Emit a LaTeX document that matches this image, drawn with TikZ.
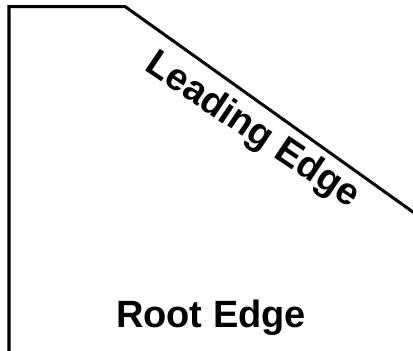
\documentclass[tikz,border=0pt]{standalone}
\usepackage{fontspec}
\setmainfont{Liberation Sans}
\tikzset{
  outline/.style={line width=3bp, line join=miter, black},
  lbl/.style={font=\bfseries\fontsize{38bp}{42bp}\selectfont, inner sep=0pt, anchor=center}
}
\begin{document}
\begin{tikzpicture}[x=1bp,y=-1bp]
\useasboundingbox (0,0) rectangle (413,351);
\clip (0,0) rectangle (413,351);
\coordinate (bl) at (9,360);
\coordinate (tl) at (9,6.5);
\coordinate (tc) at (125,6.5);
\coordinate (re) at (420,217);
\draw[outline] (bl) -- (tl) -- (tc) -- (re);
\node[lbl, rotate=-34] (lead) at (252,131) {Leading Edge};
\node[lbl] (root) at (211,318) {Root Edge};
\end{tikzpicture}
\end{document}
